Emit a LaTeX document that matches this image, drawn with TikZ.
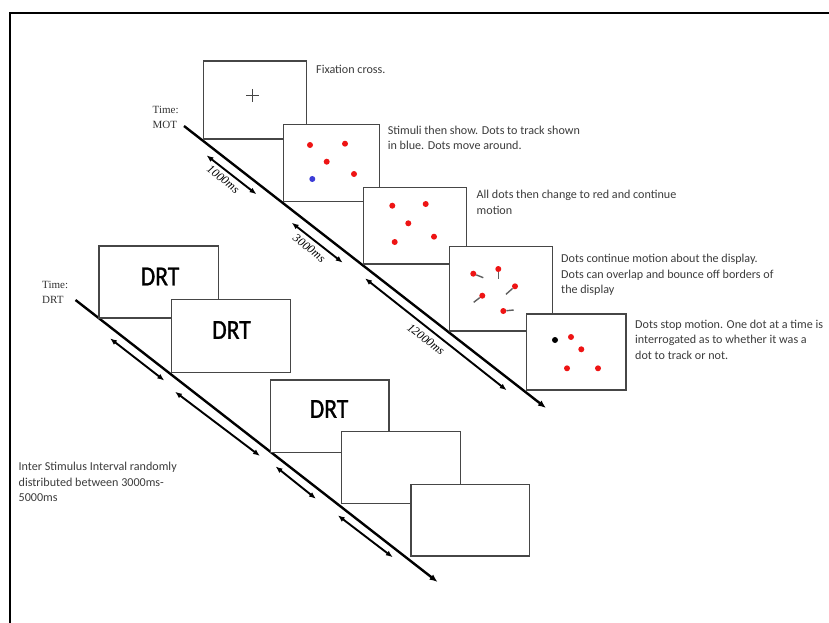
\documentclass[tikz,border=0pt]{standalone}
\usepackage{fontspec}
\setmainfont{Carlito}
\newfontfamily\timesfont{Liberation Serif}
\newfontfamily\screenfont[FakeBold=1.2]{Carlito}
\usetikzlibrary{arrows.meta}

\definecolor{boxgray}{RGB}{70,70,70}
\definecolor{txtgray}{RGB}{60,60,60}
\definecolor{dotred}{RGB}{238,20,20}
\definecolor{dotblue}{RGB}{60,60,215}
\definecolor{tailgray}{RGB}{95,95,95}

\begin{document}
\begin{tikzpicture}[x=1pt,y=-1pt,
  screen/.style={draw=boxgray, line width=1.3pt, fill=white, inner sep=0pt,
    anchor=north west, minimum width=#1},
  note/.style={anchor=north west, inner sep=0pt, align=left, text=txtgray,
    font=\fontsize{12.1}{15.5}\selectfont},
  timelbl/.style={anchor=north west, inner sep=0pt, align=left, text=black!80,
    font=\timesfont\fontsize{11}{14.5}\selectfont},
  durlbl/.style={inner sep=0pt, rotate=-37.9,
    font=\timesfont\itshape\fontsize{12}{12}\selectfont},
  drtword/.style={inner sep=0pt, font=\screenfont\fontsize{27.5}{27.5}\selectfont},
  timeline/.style={line width=2.4pt, -{Latex[length=8pt,width=6.5pt]}},
  span/.style={line width=1.9pt, {Latex[length=7pt,width=5.5pt]}-{Latex[length=7pt,width=5.5pt]}},
  dot/.style={circle, inner sep=0pt, minimum size=6pt, fill=#1},
  tail/.style={draw=tailgray, line width=1.4pt}]

% page and frame
\useasboundingbox (0,0) rectangle (829,623);
\fill[white] (0,0) rectangle (829,623);
\draw[line width=2.4pt] (10,623) -- (10,13) -- (829,13);

% ---------------- MOT time line ----------------
\coordinate (motS) at (184,126);
\coordinate (motE) at (546,408);
\draw[timeline] (motS) -- (motE);

\coordinate (m1a) at (206.5,155.3);
\coordinate (m1b) at (256.5,194.3);
\coordinate (m2a) at (291.7,222.7);
\coordinate (m2b) at (342.7,262.7);
\coordinate (m3a) at (365,278.3);
\coordinate (m3b) at (506.7,390.3);
\draw[span] (m1a) -- (m1b);
\draw[span] (m2a) -- (m2b);
\draw[span] (m3a) -- (m3b);

\node[durlbl] (l1000) at (223.3,179.3) {1000ms};
\node[durlbl] (l3000) at (309.3,248.3) {3000ms};
\node[durlbl] (l12000) at (426,339.3) {12000ms};

\node[timelbl] (tmot) at (152.5,106.5) {Time:\\MOT};

% MOT screens
\node[screen=103.5pt, minimum height=78pt] (fix) at (202.5,60.3) {};
\draw[boxgray, line width=1.2pt] (246.3,95.4) -- (259.3,95.4) (252.8,88.9) -- (252.8,101.9);

\node[screen=96pt, minimum height=76.7pt] (stim) at (282.5,124) {};
\node[dot=dotred] (s1) at (310,145) {};
\node[dot=dotred] (s2) at (345,143.7) {};
\node[dot=dotred] (s3) at (326.7,161.7) {};
\node[dot=dotred] (s4) at (354,174) {};
\node[dot=dotblue] (s5) at (312.3,179) {};

\node[screen=103pt, minimum height=76.4pt] (allred) at (363,187) {};
\node[dot=dotred] (r1) at (392.3,205.7) {};
\node[dot=dotred] (r2) at (425.7,204) {};
\node[dot=dotred] (r3) at (408.3,223.3) {};
\node[dot=dotred] (r4) at (434,236.7) {};
\node[dot=dotred] (r5) at (394.7,242) {};

\node[screen=103pt, minimum height=84.6pt] (move) at (448.5,245.6) {};
\coordinate (t1) at (483.3,277.7);
\coordinate (t2) at (498.3,278.6);
\coordinate (t3) at (506,294.3);
\coordinate (t4) at (473.7,302.3);
\coordinate (t5) at (513.7,310);
\node[dot=dotred] (v1) at (473.3,273.7) {};
\node[dot=dotred] (v2) at (498.3,269) {};
\node[dot=dotred] (v3) at (515,286.3) {};
\node[dot=dotred] (v4) at (482.3,295.7) {};
\node[dot=dotred] (v5) at (503.3,311) {};
\draw[tail] (v1) -- (t1);
\draw[tail] (v2) -- (t2);
\draw[tail] (v3) -- (t3);
\draw[tail] (v4) -- (t4);
\draw[tail] (v5) -- (t5);

\node[screen=99.3pt, minimum height=75.8pt] (stop) at (526,313.4) {};
\node[dot=black] (q1) at (555,340) {};
\node[dot=dotred] (q2) at (571,337) {};
\node[dot=dotred] (q3) at (581.3,349.3) {};
\node[dot=dotred] (q4) at (567,368.3) {};
\node[dot=dotred] (q5) at (598,368.3) {};

% MOT notes
\node[note] (n1) at (316,65) {Fixation cross.};
\node[note] (n2) at (387.6,125.5) {Stimuli then show. Dots to track shown\\in blue. Dots move around.};
\node[note] (n3) at (476.5,190) {All dots then change to red and continue\\motion};
\node[note] (n4) at (561,254) {Dots continue motion about the display.\\Dots can overlap and bounce off borders of\\the display};
\node[note] (n5) at (635,319.5) {Dots stop motion. One dot at a time is\\interrogated as to whether it was a\\dot to track or not.};

% ---------------- DRT time line ----------------
\coordinate (drtS) at (75.5,300);
\coordinate (drtE) at (437.6,582);
\draw[timeline] (drtS) -- (drtE);

\coordinate (d1a) at (110,338.3);
\coordinate (d1b) at (164.3,380.5);
\coordinate (d2a) at (175,391.7);
\coordinate (d2b) at (260,456);
\coordinate (d3a) at (275.5,466.4);
\coordinate (d3b) at (316,498.8);
\coordinate (d4a) at (337.8,515.3);
\coordinate (d4b) at (392.8,557.3);
\draw[span] (d1a) -- (d1b);
\draw[span] (d2a) -- (d2b);
\draw[span] (d3a) -- (d3b);
\draw[span] (d4a) -- (d4b);

\node[timelbl] (tdrt) at (42,281.5) {Time:\\DRT};

% DRT screens
\node[screen=119.6pt, minimum height=71.8pt] (drtA) at (98.4,245.4) {};
\node[drtword] (wA) at (160,276.5) {\scalebox{0.86}[1]{DRT}};
\node[screen=119pt, minimum height=72.6pt] (drtB) at (170.5,299) {};
\node[drtword] (wB) at (231.5,330) {\scalebox{0.86}[1]{DRT}};
\node[screen=118.5pt, minimum height=72.6pt] (drtC) at (269.7,379.4) {};
\node[drtword] (wC) at (329,409) {\scalebox{0.86}[1]{DRT}};
\node[screen=119pt, minimum height=71.7pt] (blankD) at (341,431) {};
\node[screen=118.4pt, minimum height=71.3pt] (blankE) at (410.3,484) {};

\node[note] (n6) at (18.5,462) {Inter Stimulus Interval randomly\\distributed between 3000ms-\\5000ms};

\end{tikzpicture}
\end{document}
